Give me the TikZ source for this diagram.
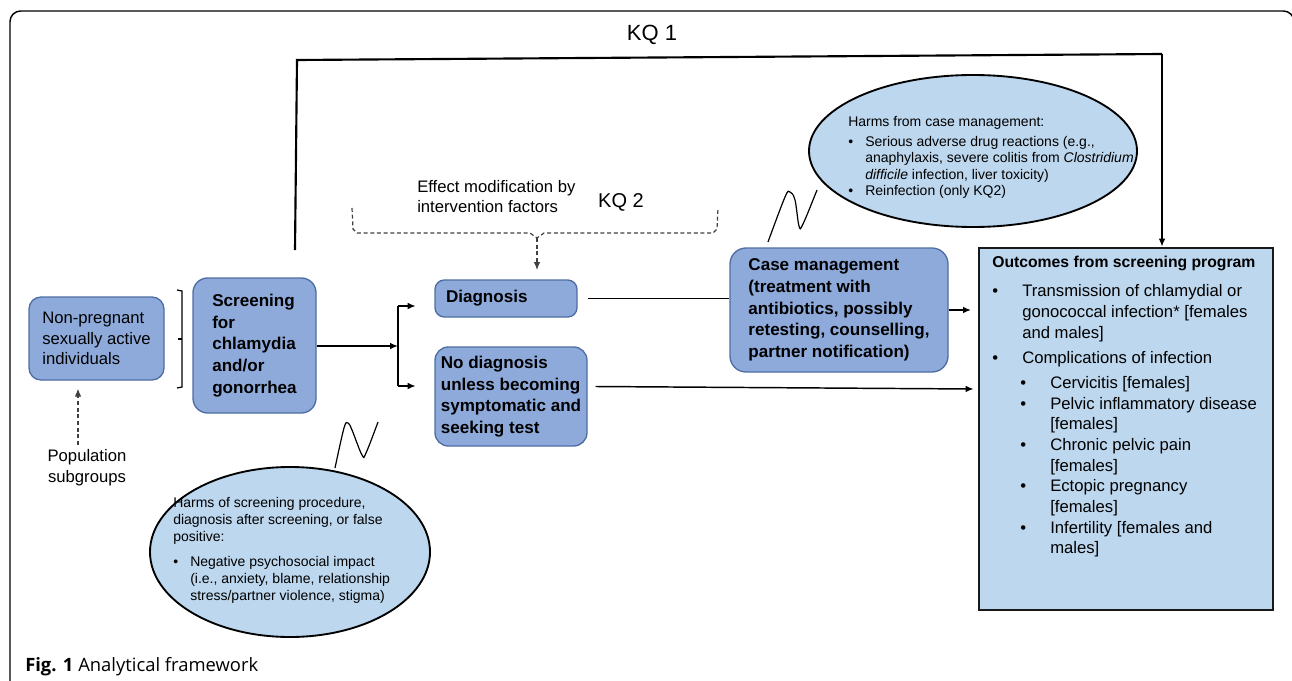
\documentclass[tikz,border=0pt]{standalone}
\usepackage{fontspec}
\setmainfont{Liberation Sans}
\newfontfamily\capfont{Open Sans}
\usetikzlibrary{arrows.meta,calc,shapes.geometric}
\definecolor{boxblue}{HTML}{8EAADB}
\definecolor{boxedge}{HTML}{4E6DA3}
\definecolor{lightblue}{HTML}{BDD7EE}
\newcommand{\bul}{\makebox[12.75pt][l]{\textbullet}}
\newcommand{\ind}{\hspace*{12.75pt}}
\newcommand{\sbul}{\makebox[22.5pt][l]{\textbullet}}
\newcommand{\sind}{\hspace*{22.5pt}}
\begin{document}
\begin{tikzpicture}[x=0.75pt,y=-0.75pt,
  bluebox/.style={draw=boxedge, line width=1pt, fill=boxblue, rounded corners=9pt, inner sep=0pt, align=left},
  boldtxt/.style={font=\fontsize{12.8}{16.2}\selectfont\bfseries},
  regtxt/.style={font=\fontsize{12.5}{15.5}\selectfont},
  conn/.style={line width=1.1pt, black},
  arr/.style={-{Latex[length=6pt,width=5pt]}},
  dsh/.style={dash pattern=on 3pt off 2pt, line width=0.9pt, black!75},
  harm/.style={ellipse, draw=black, line width=1.4pt, fill=lightblue, inner sep=0pt},
  smalltxt/.style={font=\fontsize{10.5}{12.2}\selectfont, align=left, inner sep=0pt, anchor=north west},
]
\useasboundingbox (0,0) rectangle (1292,681);
% outer frame
\draw[line width=1.1pt, rounded corners=8pt] (10,700) -- (10,11) -- (1294,11) -- (1294,700);

% boxes
\node[bluebox, regtxt, minimum width=101.25pt, minimum height=62.25pt] (np) at (96.5,338.5) {Non-pregnant\\sexually active\\individuals};
\node[bluebox, boldtxt, minimum width=92.25pt, minimum height=101.25pt, rounded corners=11pt] (scr) at (254.5,345.5) {Screening\\for\\chlamydia\\and/or\\gonorrhea};
\node[bluebox, boldtxt, minimum width=106.5pt, minimum height=27.75pt, text width=90pt, inner xsep=8.25pt, rounded corners=7pt] (diag) at (506,298.5) {Diagnosis};
\node[bluebox, boldtxt, minimum width=114pt, minimum height=74.25pt, rounded corners=10pt] (nodiag) at (511,396.5) {No diagnosis\\unless becoming\\symptomatic and\\seeking test};
\node[bluebox, boldtxt, minimum width=163.5pt, minimum height=93pt, rounded corners=12pt] (cm) at (839,310) {Case management\\(treatment with\\antibiotics, possibly\\retesting, counselling,\\partner notification)};
\node[draw=black!90, line width=2pt, fill=lightblue, minimum width=220.5pt, minimum height=271.5pt, inner sep=0pt] (out) at (1126,429) {};
\node[regtxt, align=left, inner sep=0pt, anchor=north west] (outt) at (992,256) {%
\textbf{\fontsize{11.8}{15.5}\selectfont Outcomes from screening program}\\[6.4pt]
\makebox[22.5pt][l]{\textbullet}Transmission of chlamydial or\\
\sind gonococcal infection* [females\\
\sind and males]\\[3.4pt]
\makebox[22.5pt][l]{\textbullet}Complications of infection\\[3.4pt]
\hspace*{21pt}\sbul Cervicitis [females]\\
\hspace*{21pt}\sbul Pelvic inflammatory disease\\
\hspace*{21pt}\sind [females]\\
\hspace*{21pt}\sbul Chronic pelvic pain\\
\hspace*{21pt}\sind [females]\\
\hspace*{21pt}\sbul Ectopic pregnancy\\
\hspace*{21pt}\sind [females]\\
\hspace*{21pt}\sbul Infertility [females and\\
\hspace*{21pt}\sind males]};

% harms ellipses
\node[harm, minimum width=246pt, minimum height=114pt] (h1) at (973,151) {};
\node[smalltxt] (h1t) at (848,116) {Harms from case management:\\[3pt]
\bul Serious adverse drug reactions (e.g.,\\
\ind anaphylaxis, severe colitis from \textit{Clostridium}\\
\ind \textit{difficile} infection, liver toxicity)\\
\bul Reinfection (only KQ2)};
\node[harm, minimum width=210pt, minimum height=127.5pt] (h2) at (290,552) {};
\node[smalltxt, font=\fontsize{10.5}{12.75}\selectfont] (h2t) at (173,497) {Harms of screening procedure,\\
diagnosis after screening, or false\\
positive:\\[6pt]
\bul Negative psychosocial impact\\
\ind (i.e., anxiety, blame, relationship\\
\ind stress/partner violence, stigma)};

% labels
\node[regtxt, align=center, inner sep=0pt] (pop) at (87,468) {Population\\subgroups};
\node[font=\fontsize{12.5}{15}\selectfont, align=left, anchor=west, inner sep=0pt] (eff) at (417,197) {Effect modification by\\intervention factors};
\node[font=\fontsize{15}{18}\selectfont, inner sep=0pt] (kq2) at (621,202) {KQ 2};
\node[font=\fontsize{16.5}{19}\selectfont, inner sep=0pt] (kq1) at (652,35) {KQ 1};
\node[anchor=west, inner sep=0pt, font=\capfont\fontsize{13.8}{16}\selectfont] (cap) at (25,667) {\textbf{Fig. 1} Analytical framework};

% squiggles
\draw[line width=0.9pt] plot[smooth, tension=0.6] coordinates {(768,242) (785,197) (790,192) (795,200) (799,226) (803,224) (817,190)};
\draw[line width=0.9pt] plot[smooth, tension=0.6] coordinates {(335,468) (344,428) (348,423) (352,430) (362,455) (366,453) (378,422)};

% coordinates
\coordinate (fork) at (398,346);
\coordinate (forkT) at (398,306);
\coordinate (forkB) at (398,386);
\coordinate (kqs) at (295,250);
\coordinate (kqa) at (297,60);
\coordinate (kqb) at (1162,54);
\coordinate (pa) at (78,445);
\coordinate (brm) at (537,238);

% bracket
\draw[conn, line width=0.9pt] (177,290) -- (182,291) -- (182,387) -- (177,388);
\draw[conn, line width=0.9pt] (182,339) -- (178,339);

% connectors
\draw[conn, arr] (scr.east |- fork) -- (fork);
\draw[conn] (forkT) -- (forkB);
\draw[conn, arr, shorten >=14pt] (forkT) -- (forkT -| diag.west);
\draw[conn, arr, shorten >=14pt] (forkB) -- (forkB -| nodiag.west);
\draw[conn, shorten <=8pt] (diag.east) -- (diag.east -| cm.west);
\draw[conn, arr] ($(nodiag.east)+(8,-10)$) -- ($(out.west)+(-4,-40)$);
\draw[conn, arr, shorten >=5pt] (cm.east) -- (cm.east -| out.west);
\draw[line width=1.6pt] (kqs) -- (kqa) -- (kqb);
\draw[line width=1.1pt, arr] (kqb) -- (kqb |- out.north);
\draw[dsh, arr] (pa) -- (pa |- np.south) [shorten >=6pt];
\draw[dsh] (352,208) -- (353,229) -- (357,233) -- (530,233) -- (brm) -- (544,233) -- (713,233) -- (717,229) -- (718,208);
\draw[dsh, arr, shorten >=7pt] (brm) -- (brm |- diag.north);
\end{tikzpicture}
\end{document}
